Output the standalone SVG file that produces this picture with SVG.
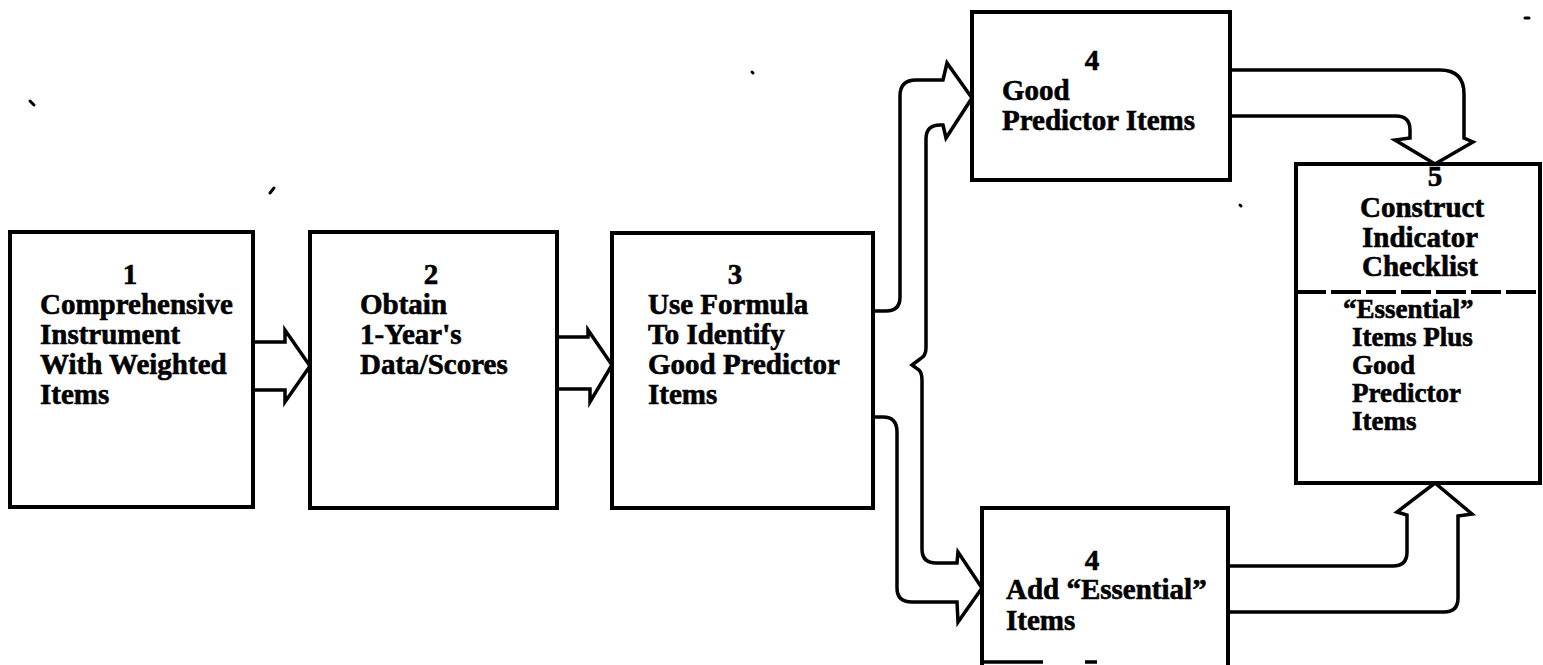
<svg xmlns="http://www.w3.org/2000/svg" width="1543" height="665" viewBox="0 0 1543 665">
<style>
.box{fill:#fff;stroke:#000;stroke-width:4}
.conn{fill:none;stroke:#000;stroke-width:3.5;stroke-linejoin:miter}
.dash{fill:none;stroke:#000;stroke-width:4;stroke-dasharray:30 5}
.mark{fill:none;stroke:#000;stroke-width:3;stroke-linecap:round}
text{font-family:"Liberation Serif","Times New Roman",serif;font-weight:bold;font-size:29px;fill:#000;stroke:#000;stroke-width:0.6}
.c{text-anchor:middle}
.s{font-size:27px}
</style>
<rect width="1543" height="665" fill="#fff"/>
<g id="marks">
<path class="mark" d="M30,101 L34,105"/>
<path class="mark" d="M270,193 L274,188"/>
<path class="mark" d="M752,72 L753,73"/>
<path class="mark" d="M1525,18 L1529,18"/>
<path class="mark" d="M1240,205 L1241,206"/>
</g>
<g id="connectors">
<path class="conn" d="M253,342 H285 V330 L310,366 L285,402 V390 H253"/>
<path class="conn" d="M557,337 H588 V330 L612,365 L590,402 V389 H557"/>
<path class="conn" d="M873,311 H886 Q900,311 900,297 V96 Q900,80 916,80 H943 L947,63 L972,98 L946,138 L943,125 H940 Q926,125 926,139 V348 Q926,356 920,359 L912,365 L919,370 Q922,373 922,380 V549 Q922,563 936,563 H957 L958,552 L982,588 L958,622 L957,602 H912 Q897,602 897,588 V432 Q897,417 883,417 H873"/>
<path class="conn" d="M1230,70 H1440 Q1464,70 1464,94 V138 L1473,142 L1435,164 L1395,140 L1410,138 V130 Q1410,116 1396,116 H1230"/>
<path class="conn" d="M1228,566 H1393 Q1407,566 1407,552 V515 L1397,512 L1435,483 L1472,514 L1458,516 V598 Q1458,612 1444,612 H1228"/>
</g>
<g id="node1">
<rect class="box" x="10" y="232" width="243" height="275"/>
<text class="c" x="130" y="284">1</text>
<text x="40" y="314">Comprehensive</text>
<text x="40" y="344">Instrument</text>
<text x="40" y="374">With Weighted</text>
<text x="40" y="404">Items</text>
</g>
<g id="node2">
<rect class="box" x="310" y="232" width="247" height="276"/>
<text class="c" x="431" y="284">2</text>
<text x="360" y="314">Obtain</text>
<text x="360" y="344">1-Year's</text>
<text x="360" y="374">Data/Scores</text>
</g>
<g id="node3">
<rect class="box" x="612" y="233" width="261" height="275"/>
<text class="c" x="735" y="284">3</text>
<text x="648" y="314">Use Formula</text>
<text x="648" y="344">To Identify</text>
<text x="648" y="374">Good Predictor</text>
<text x="648" y="404">Items</text>
</g>
<g id="node4a">
<rect class="box" x="972" y="12" width="258" height="168"/>
<text class="c" x="1092" y="70">4</text>
<text x="1002" y="100">Good</text>
<text x="1002" y="130">Predictor Items</text>
</g>
<g id="node4b">
<rect x="982" y="508" width="246" height="157" fill="#fff"/>
<path class="box" fill="none" d="M982,665 V508 H1228 V665"/>
<path class="conn" d="M982,662 H1043 M1085,662 H1097"/>
<text class="c" x="1092" y="570">4</text>
<text x="1006" y="599">Add “Essential”</text>
<text x="1006" y="630">Items</text>
</g>
<g id="node5">
<rect class="box" x="1296" y="164" width="244" height="319"/>
<line class="dash" x1="1296" y1="292" x2="1540" y2="292"/>
<text class="c" x="1435" y="186">5</text>
<text x="1360" y="217">Construct</text>
<text x="1362" y="247">Indicator</text>
<text x="1362" y="276">Checklist</text>
<text class="s" x="1343" y="318">“Essential”</text>
<text class="s" x="1352" y="346">Items Plus</text>
<text class="s" x="1352" y="374">Good</text>
<text class="s" x="1352" y="402">Predictor</text>
<text class="s" x="1352" y="430">Items</text>
</g>
</svg>
